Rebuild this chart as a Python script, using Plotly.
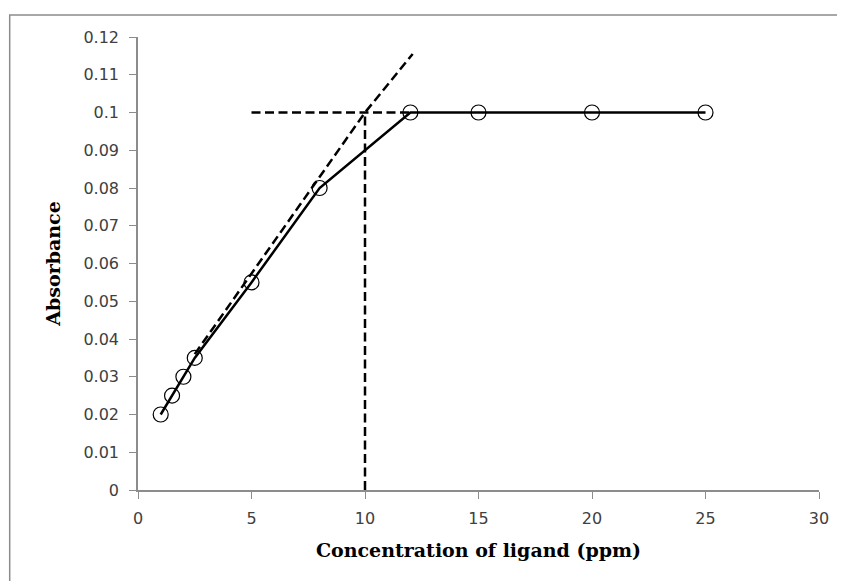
import plotly.graph_objects as go

# Data
conc = [1, 1.5, 2, 2.5, 5, 8, 12, 15, 20, 25]
absorb = [0.020, 0.025, 0.030, 0.035, 0.055, 0.080, 0.100, 0.100, 0.100, 0.100]

# Tangent (extrapolated) dashed line
tan_x = [2.5, 10, 12.1]
tan_y = [0.036, 0.100, 0.1155]
# Horizontal plateau dashed line
hor_x = [5, 12]
hor_y = [0.100, 0.100]
# Vertical dashed line at intersection
ver_x = [10, 10]
ver_y = [0.0, 0.100]

x_ticks = [0, 5, 10, 15, 20, 25, 30]
y_ticks = [0, 0.01, 0.02, 0.03, 0.04, 0.05, 0.06, 0.07, 0.08, 0.09, 0.1, 0.11, 0.12]
y_tick_text = ["0", "0.01", "0.02", "0.03", "0.04", "0.05", "0.06", "0.07",
               "0.08", "0.09", "0.1", "0.11", "0.12"]

dash_style = dict(color="black", width=2.5, dash="9px,4.5px")

fig = go.Figure()
fig.add_trace(go.Scatter(x=tan_x, y=tan_y, mode="lines", line=dash_style,
                         showlegend=False, hoverinfo="skip"))
fig.add_trace(go.Scatter(x=hor_x, y=hor_y, mode="lines", line=dash_style,
                         showlegend=False, hoverinfo="skip"))
fig.add_trace(go.Scatter(x=ver_x, y=ver_y, mode="lines", line=dash_style,
                         showlegend=False, hoverinfo="skip"))
fig.add_trace(go.Scatter(
    x=conc, y=absorb, mode="lines+markers",
    line=dict(color="black", width=2.5),
    marker=dict(symbol="circle-open", size=15, color="black",
                line=dict(color="black", width=1.2)),
    showlegend=False,
))

axis_color = "#8c8c8c"
tick_font = dict(family="DejaVu Sans", size=16, color="#404040")
title_font = dict(family="DejaVu Serif", size=19, color="black", weight="bold")
fig.update_layout(
    width=845, height=581,
    margin=dict(l=129.5, r=33.5, t=29, b=99),
    paper_bgcolor="white", plot_bgcolor="white",
    font=dict(family="DejaVu Sans", size=16, color="#404040"),
    xaxis=dict(
        range=[0, 30], tickvals=x_ticks, ticks="outside", ticklen=7,
        tickcolor=axis_color, showline=True, linecolor=axis_color, linewidth=1.5,
        showgrid=False, zeroline=False, tickfont=tick_font, ticklabelstandoff=6,
        title=dict(text="Concentration of ligand (ppm)", standoff=17, font=title_font),
    ),
    yaxis=dict(
        range=[0, 0.12], tickvals=y_ticks, ticktext=y_tick_text, ticks="outside",
        ticklen=7, tickcolor=axis_color, showline=True, linecolor=axis_color,
        linewidth=1.5, showgrid=False, zeroline=False, tickfont=tick_font,
        ticklabelstandoff=7,
        title=dict(text="Absorbance", standoff=18, font=title_font),
    ),
    shapes=[dict(type="rect", xref="paper", yref="paper",
                 x0=-0.1884, x1=1.08, y0=-0.27, y1=1.0486,
                 line=dict(color="#8c8c8c", width=1.5), layer="below")],
)

fig.write_html("out.html")
